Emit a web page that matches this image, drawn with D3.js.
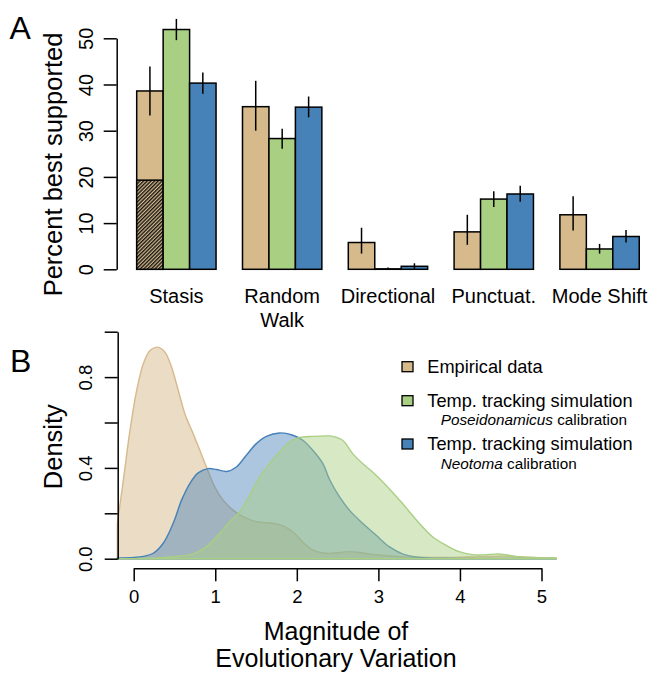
<!DOCTYPE html>
<html><head><meta charset="utf-8">
<script src="https://cdn.jsdelivr.net/npm/d3@7"></script>
<style>body{margin:0;background:#fff}svg{display:block}text{font-family:"Liberation Sans",Arial,Helvetica,sans-serif;fill:#000}</style>
</head><body><svg id="c" width="652" height="673"></svg>
<script>
// ---------- Panel A data ----------
const categories = [["Stasis"], ["Random", "Walk"], ["Directional"], ["Punctuat."], ["Mode Shift"]];
const seriesNames = ["Empirical data", "Poseidonamicus", "Neotoma"];
const empirical   = [38.6, 35.2, 5.8, 8.1, 11.8];
const empiricalLo = [33.3, 30.0, 3.4, 5.3, 8.4];
const empiricalHi = [43.9, 40.8, 9.0, 11.8, 15.8];
const poseidon    = [51.9, 28.3, 0.1, 15.2, 4.4];
const poseidonLo  = [49.6, 26.1, 0.0, 13.5, 3.4];
const poseidonHi  = [54.2, 30.4, 0.4, 16.9, 5.5];
const neotoma     = [40.3, 35.1, 0.65, 16.3, 7.1];
const neotomaLo   = [38.0, 32.9, 0.05, 14.6, 5.8];
const neotomaHi   = [42.6, 37.4, 1.3, 18.1, 8.5];
const hatched     = [19.3, 0, 0, 0, 0];   // hatched portion of the empirical stasis bar
const yTicksA = [0, 10, 20, 30, 40, 50];

// ---------- Panel B data ----------
const empX = [-0.2,-0.127,-0.045,0.037,0.118,0.2,0.293,0.383,0.464,0.546,0.627,0.729,0.811,0.892,0.994,1.096,1.218,1.34,1.504,1.707,1.83,1.95,2.07,2.2,2.36,2.5,2.64,2.8,3.0,3.3,3.6,3.9,4.2,4.5,4.8,5.18];
const empY = [0.156,0.346,0.566,0.742,0.859,0.917,0.932,0.91,0.844,0.742,0.639,0.551,0.478,0.404,0.316,0.258,0.214,0.185,0.163,0.156,0.145,0.119,0.075,0.038,0.024,0.026,0.031,0.026,0.016,0.008,0.006,0.006,0.009,0.011,0.007,0.002];
const neoX = [-0.2,0,0.118,0.24,0.362,0.484,0.587,0.688,0.79,0.912,1.015,1.137,1.259,1.381,1.504,1.626,1.789,1.951,2.073,2.196,2.318,2.4,2.522,2.644,2.807,2.97,3.133,3.296,3.5,3.83,4.2,4.6,5.18];
const neoY = [0.003,0.005,0.01,0.024,0.068,0.156,0.258,0.331,0.378,0.397,0.393,0.384,0.404,0.456,0.507,0.539,0.554,0.544,0.522,0.478,0.42,0.35,0.273,0.214,0.156,0.104,0.053,0.021,0.006,0.002,0.001,0.001,0];
const posX = [-0.2,0.2,0.52,0.729,0.892,1.055,1.177,1.3,1.422,1.544,1.666,1.789,1.911,2.033,2.196,2.4,2.44,2.562,2.685,2.807,2.929,3.093,3.296,3.5,3.663,3.826,3.99,4.15,4.3,4.48,4.72,5.18];
const posY = [0,0.002,0.01,0.021,0.053,0.112,0.163,0.207,0.28,0.36,0.419,0.47,0.514,0.534,0.539,0.541,0.539,0.522,0.463,0.419,0.382,0.324,0.243,0.156,0.097,0.06,0.031,0.018,0.017,0.021,0.009,0.003];
const xTicksB = [0, 1, 2, 3, 4, 5];
const yTicksB = [0, 0.2, 0.4, 0.6, 0.8, 1.0];
const yLabelsB = [0, 0.4, 0.8];
const legendLabels = [["Empirical data", null, null], ["Temp. tracking simulation", "Poseidonamicus", " calibration"], ["Temp. tracking simulation", "Neotoma", " calibration"]];

const colors = ["#d6ba8c", "#a9cf83", "#4681b8"];
const fillColors = ["rgba(214,186,140,0.5)", "rgba(70,129,184,0.45)", "rgba(169,207,131,0.47)"];

const svg = d3.select("#c");
svg.append("rect").attr("width", 652).attr("height", 673).attr("fill", "#fff");

// hatch pattern
const defs = svg.append("defs");
const pat = defs.append("pattern").attr("id", "hatch").attr("patternUnits", "userSpaceOnUse")
  .attr("width", 2.6).attr("height", 10).attr("patternTransform", "rotate(45)");
pat.append("rect").attr("width", 2.6).attr("height", 10).attr("fill", colors[0]);
pat.append("line").attr("x1", 0.7).attr("x2", 0.7).attr("y1", 0).attr("y2", 10).attr("stroke", "#111").attr("stroke-width", 1.35);

// ---------- Panel A ----------
const xA = d3.scaleLinear().domain([0, 20]).range([110.25, 639.25]);
const yA = d3.scaleLinear().domain([0, 50]).range([269.3, 38.3]);

const vals = [empirical, poseidon, neotoma];
const los = [empiricalLo, poseidonLo, neotomaLo];
const his = [empiricalHi, poseidonHi, neotomaHi];

const gA = svg.append("g");
categories.forEach((cat, g) => {
  vals.forEach((arr, s) => {
    const u0 = 1 + 4 * g + s;
    gA.append("rect").attr("x", xA(u0)).attr("width", xA(u0 + 1) - xA(u0))
      .attr("y", yA(arr[g])).attr("height", yA(0) - yA(arr[g]))
      .attr("fill", colors[s]).attr("stroke", "#000").attr("stroke-width", 1.5);
    if (s === 0 && hatched[g] > 0) {
      gA.append("rect").attr("x", xA(u0)).attr("width", xA(u0 + 1) - xA(u0))
        .attr("y", yA(hatched[g])).attr("height", yA(0) - yA(hatched[g]))
        .attr("fill", "url(#hatch)").attr("stroke", "#000").attr("stroke-width", 1.5);
    }
    const cx = xA(u0 + 0.5);
    gA.append("line").attr("x1", cx).attr("x2", cx).attr("y1", yA(los[s][g])).attr("y2", yA(his[s][g]))
      .attr("stroke", "#000").attr("stroke-width", 1.5);
  });
  const tx = xA(1 + 4 * g + 1.5);
  cat.forEach((line, i) => {
    gA.append("text").attr("x", tx).attr("y", 303 + i * 24).attr("text-anchor", "middle")
      .attr("font-size", 20).text(line);
  });
});

const axA = svg.append("g").attr("transform", "translate(116.7,0)")
  .call(d3.axisLeft(yA).tickValues(yTicksA).tickSize(13).tickSizeOuter(0).tickFormat(d3.format("d")));
axA.select(".domain").attr("stroke", "#000").attr("stroke-width", 1.5);
axA.selectAll(".tick line").attr("stroke", "#000").attr("stroke-width", 1.5);
axA.selectAll(".tick text").attr("x", null).attr("dy", null).attr("y", null)
  .attr("text-anchor", "middle").attr("font-size", 20).attr("font-family", null)
  .attr("transform", "translate(-23.4,0) rotate(-90)").attr("fill", "#000");

svg.append("text").attr("transform", "translate(61.5,164.5) rotate(-90)").attr("text-anchor", "middle")
  .attr("font-size", 25.5).text("Percent best supported");
svg.append("text").attr("x", 9.5).attr("y", 39.3).attr("font-size", 32).text("A");

// ---------- Panel B ----------
const xB = d3.scaleLinear().domain([0, 5]).range([133.7, 541.5]);
const yB = d3.scaleLinear().domain([0, 1]).range([558.7, 331.7]);

const area = d3.area().curve(d3.curveCatmullRom.alpha(0.5))
  .x(d => xB(d[0])).y0(yB(0)).y1(d => yB(d[1]));
const dens = [[empX, empY, 0], [neoX, neoY, 2], [posX, posY, 1]];
dens.forEach(([xs, ys, ci], k) => {
  const pts = xs.map((x, i) => [x, ys[i]]);
  svg.append("path").datum(pts).attr("d", area)
    .attr("fill", fillColors[k]).attr("stroke", colors[ci]).attr("stroke-width", 1.4)
    .attr("stroke-linejoin", "round");
});

const axBy = svg.append("g").attr("transform", "translate(117.7,0)")
  .call(d3.axisLeft(yB).tickValues(yTicksB).tickSize(13).tickSizeOuter(0)
    .tickFormat(d => yLabelsB.some(v => Math.abs(v - d) < 1e-9) ? d3.format(".1f")(d) : ""));
axBy.select(".domain").attr("stroke", "#000").attr("stroke-width", 1.5);
axBy.selectAll(".tick line").attr("stroke", "#000").attr("stroke-width", 1.5);
axBy.selectAll(".tick text").attr("x", null).attr("dy", null).attr("y", null)
  .attr("text-anchor", "middle").attr("font-size", 18.5).attr("font-family", null)
  .attr("transform", "translate(-26,0) rotate(-90)").attr("fill", "#000");

const axBx = svg.append("g").attr("transform", "translate(0,568.3)")
  .call(d3.axisBottom(xB).tickValues(xTicksB).tickSize(13).tickSizeOuter(0).tickFormat(d3.format("d")));
axBx.select(".domain").attr("stroke", "#000").attr("stroke-width", 1.5);
axBx.selectAll(".tick line").attr("stroke", "#000").attr("stroke-width", 1.5);
axBx.selectAll(".tick text").attr("y", 34.4).attr("dy", null).attr("font-size", 18.5)
  .attr("font-family", null).attr("fill", "#000");

svg.append("text").attr("transform", "translate(61.5,446.7) rotate(-90)").attr("text-anchor", "middle")
  .attr("font-size", 25.5).text("Density");
svg.append("text").attr("x", 336).attr("y", 640).attr("text-anchor", "middle").attr("font-size", 25).text("Magnitude of");
svg.append("text").attr("x", 336).attr("y", 666.5).attr("text-anchor", "middle").attr("font-size", 25).text("Evolutionary Variation");
svg.append("text").attr("x", 10).attr("y", 371.7).attr("font-size", 32).text("B");

// legend
const legY = [372.7, 406.7, 450];
const legC = [colors[0], colors[1], colors[2]];
legendLabels.forEach((lab, i) => {
  svg.append("rect").attr("x", 402).attr("y", legY[i] - 11).attr("width", 11).attr("height", 10)
    .attr("fill", legC[i]).attr("stroke", "#000").attr("stroke-width", 1.3);
  svg.append("text").attr("x", 427.3).attr("y", legY[i]).attr("font-size", 18.2).text(lab[0]);
  if (lab[1]) {
    const t = svg.append("text").attr("x", 440.7).attr("y", legY[i] + 18.5).attr("font-size", 15.3);
    t.append("tspan").attr("font-style", "italic").text(lab[1]);
    t.append("tspan").text(lab[2]);
  }
});
</script></body></html>
